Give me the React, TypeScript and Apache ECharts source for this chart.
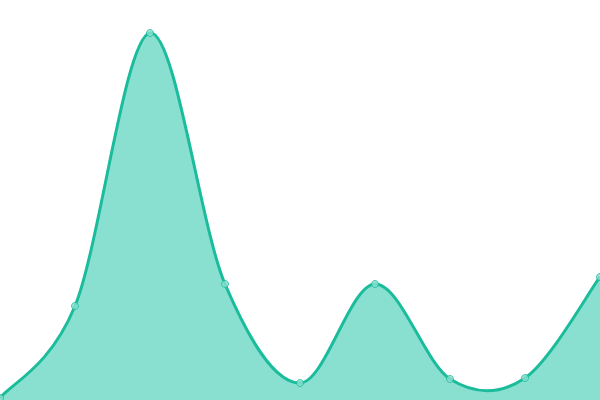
import React, { useEffect, useRef } from "react";
import * as echarts from "echarts";

const categories = ["A", "B", "C", "D", "E", "F", "G", "H", "I"];
const values = [0.5, 23.5, 91.75, 29, 4.25, 29, 5.25, 5.5, 30.75];

const LINE = "#1abc9c";
const FILL = "#8ae0d0";

function splinePath(pts: number[][]): string {
  let d = `M${pts[0][0]},${pts[0][1]}`;
  for (let i = 0; i < pts.length - 1; i++) {
    const p0 = pts[Math.max(0, i - 1)];
    const p1 = pts[i];
    const p2 = pts[i + 1];
    const p3 = pts[Math.min(pts.length - 1, i + 2)];
    const c1x = p1[0] + (p2[0] - p0[0]) / 6;
    const c1y = p1[1] + (p2[1] - p0[1]) / 6;
    const c2x = p2[0] - (p3[0] - p1[0]) / 6;
    const c2y = p2[1] - (p3[1] - p1[1]) / 6;
    d += ` C${c1x},${c1y} ${c2x},${c2y} ${p2[0]},${p2[1]}`;
  }
  return d;
}

export default function App() {
  const ref = useRef<HTMLDivElement>(null);
  useEffect(() => {
    const chart = echarts.init(ref.current!, undefined, { renderer: "svg" });
    chart.setOption({
      animation: false,
      grid: { left: 0, right: 0, top: 0, bottom: 0 },
      xAxis: {
        type: "category",
        data: categories,
        boundaryGap: false,
        show: false,
      },
      yAxis: { type: "value", min: 0, max: 100, show: false },
      series: [
        {
          type: "custom",
          data: values,
          clip: true,
          z: 1,
          renderItem: (params: any, api: any) => {
            if (params.dataIndex !== 0) return null;
            const pts = values.map((v, i) => api.coord([i, v]));
            const base = api.coord([0, 0])[1];
            const line = splinePath(pts);
            const area =
              line +
              ` L${pts[pts.length - 1][0]},${base} L${pts[0][0]},${base} Z`;
            return {
              type: "group",
              children: [
                {
                  type: "path",
                  shape: { pathData: area },
                  style: { fill: FILL, stroke: "none" },
                },
                {
                  type: "path",
                  shape: { pathData: line },
                  style: { fill: "none", stroke: LINE, lineWidth: 3 },
                },
              ],
            };
          },
        },
        {
          type: "scatter",
          data: values,
          symbol: "circle",
          symbolSize: 7,
          z: 3,
          itemStyle: { color: FILL, borderColor: LINE, borderWidth: 1 },
        },
      ],
    });
    return () => chart.dispose();
  }, []);
  return (
    <div
      ref={ref}
      style={{ position: "fixed", left: 0, top: 0, width: 600, height: 400, background: "#fff" }}
    />
  );
}
